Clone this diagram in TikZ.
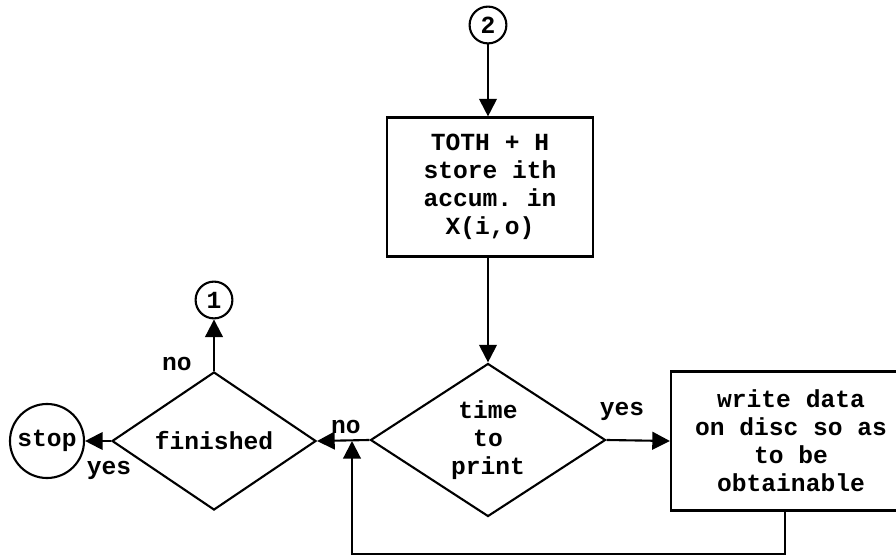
\documentclass[tikz,border=0pt]{standalone}
\usepackage{fontspec}
\setmonofont{Liberation Mono}
\usetikzlibrary{arrows.meta,shapes.geometric}

\begin{document}
\begin{tikzpicture}[x=0.025cm, y=-0.025cm,
  every node/.style={font=\ttfamily\bfseries\fontsize{17.5}{20}\selectfont},
  procbox/.style={draw, line width=1.5pt, align=center, inner sep=0pt},
  decision/.style={draw, diamond, line width=1.5pt, align=center, inner sep=0pt},
  connector/.style={draw, circle, line width=1.5pt, inner sep=0pt},
  arr/.style={line width=1.5pt, -{Triangle[length=4.4mm, width=4.4mm]}}]

\useasboundingbox (0,0) rectangle (896,556);

% nodes
\node[connector, minimum size=0.92cm] (c2) at (488,25) {2};
\node[procbox, minimum width=5.15cm, minimum height=3.475cm] (accum) at (490,187)
  {TOTH + H\\store ith\\accum. in\\X(i,o)};
\node[decision, minimum width=5.875cm, minimum height=3.475cm] (print) at (488,440)
  {time\\to\\print};
\node[procbox, minimum width=6cm, minimum height=3.475cm] (write) at (791,441)
  {write data\\on disc so as\\to be\\obtainable};
\node[decision, minimum width=5.1cm, minimum height=3.45cm] (finished) at (214,441)
  {finished};
\node[connector, minimum size=0.92cm] (c1) at (214,300) {1};
\node[connector, minimum size=1.85cm] (stop) at (47,441) {stop};
\coordinate (j) at (352,441);

% connectors
\draw[arr] (c2) -- (c2 |- accum.north);
\draw[arr] (c2 |- accum.south) -- (print.north);
\draw[arr] (print.east) -- (write.west);
\draw[arr] (print.west) -- (finished.east);
\draw[arr] ([xshift=-0.15cm]write.south) -- ++(0,42) -| (j);
\draw[arr] (finished.north) -- (c1);
\draw[arr] (finished.west) -- (stop);

% labels
\node (yesprint) at (622,411) {yes};
\node (noprint) at (346,427) {no};
\node (nofin) at (177,364) {no};
\node (yesfin) at (109,470) {yes};

\end{tikzpicture}
\end{document}
